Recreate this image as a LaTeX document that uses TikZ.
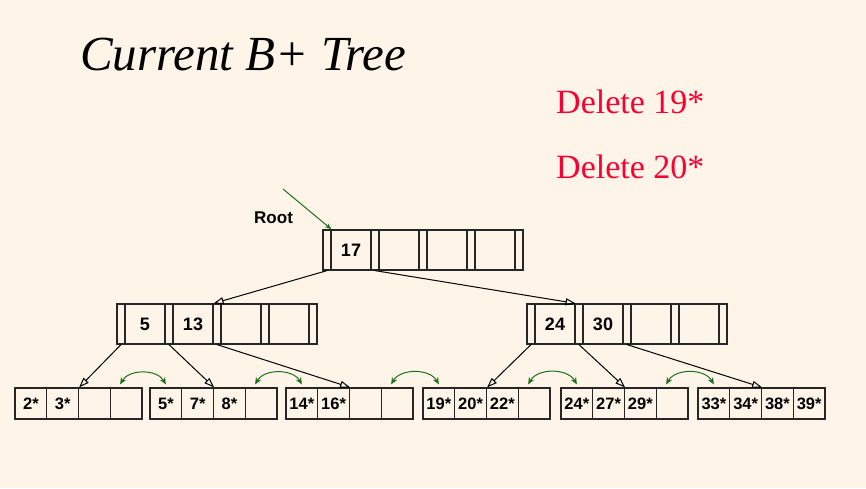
\documentclass[tikz,border=0pt]{standalone}
\usepackage{fontspec}
\setmainfont{Liberation Serif}
\setsansfont{Liberation Sans}
\usepackage{tikz}
\usetikzlibrary{arrows.meta}
\usepackage{xcolor}
\definecolor{paper}{RGB}{254,245,232}
\definecolor{deleted}{RGB}{250,0,50}
\definecolor{sibling}{RGB}{30,110,30}

\begin{document}
\begin{tikzpicture}[x=1pt, y=-1pt,
    slotbox/.style={draw=black!85, line width=1.2pt, minimum width=8pt, minimum height=40pt, inner sep=0pt},
    keybox/.style={draw=black!85, line width=1.2pt, minimum width=40pt, minimum height=40pt, inner sep=0pt,
      font=\sffamily\bfseries\fontsize{18}{18}\selectfont},
    leafcell/.style={draw=black!85, line width=1.2pt, minimum width=31.75pt, minimum height=31pt, inner sep=0pt,
      font=\sffamily\bfseries\fontsize{16.5}{16.5}\selectfont},
    ptr/.style={line width=1pt, -{Triangle[open, length=10pt, width=7pt]}},
    sib/.style={sibling, line width=1pt, {Stealth[length=7pt, width=6pt]}-{Stealth[length=7pt, width=6pt]}}]

  % Background
  \fill[paper] (0,0) rectangle (866,488);
  \useasboundingbox (0,0) rectangle (866,488);

  % Texts
  \node[anchor=base west, inner sep=0pt, font=\itshape\fontsize{49}{49}\selectfont] (title) at (80,70) {Current B+ Tree};
  \node[anchor=base west, inner sep=0pt, text=deleted, font=\fontsize{34}{34}\selectfont] (del1) at (556,113) {Delete 19*};
  \node[anchor=base west, inner sep=0pt, text=deleted, font=\fontsize{34}{34}\selectfont] (del2) at (556,178) {Delete 20*};
  \node[anchor=base west, inner sep=0pt, font=\sffamily\bfseries\fontsize{17}{17}\selectfont] (rootlabel) at (254,223) {Root};

  % Root node
  \foreach \i in {0,...,4} \node[slotbox] (r-s\i) at (327+48*\i, 250) {};
  \foreach \k/\txt in {1/17,2/,3/,4/} \node[keybox] (r-k\k) at (303+48*\k, 250) {\txt};

  % Index nodes
  \foreach \i in {0,...,4} \node[slotbox] (i1-s\i) at (121+48*\i, 324) {};
  \foreach \k/\txt in {1/5,2/13,3/,4/} \node[keybox] (i1-k\k) at (97+48*\k, 324) {\txt};
  \foreach \i in {0,...,4} \node[slotbox] (i2-s\i) at (531+48*\i, 324) {};
  \foreach \k/\txt in {1/24,2/30,3/,4/} \node[keybox] (i2-k\k) at (507+48*\k, 324) {\txt};

  % Leaves
  \foreach \j/\xo/\a/\b/\c/\d in {1/15/2*/3*//, 2/150/5*/7*/8*/, 3/286/14*/16*//,
      4/423/19*/20*/22*/, 5/561/24*/27*/29*/, 6/698/33*/34*/38*/39*} {
    \node[leafcell] (l\j-1) at (\xo+15.875, 403.5) {\a};
    \node[leafcell] (l\j-2) at (\xo+47.625, 403.5) {\b};
    \node[leafcell] (l\j-3) at (\xo+79.375, 403.5) {\c};
    \node[leafcell] (l\j-4) at (\xo+111.125, 403.5) {\d};
  }

  % Edges
  \coordinate (rootin) at (283,189);
  \draw[sibling, line width=1pt, -{Stealth[length=7pt, width=5pt]}] (rootin) -- (r-s0.north east);
  \draw[ptr] (r-s0.south) -- (i1-k2.north east);
  \draw[ptr] (r-s1.south) -- (i2-k1.north east);
  \draw[ptr] (i1-s0.south) -- (l1-2.north east);
  \draw[ptr] (i1-s1.south) -- (l2-2.north east);
  \draw[ptr] (i1-s2.south) -- (l3-2.north east);
  \draw[ptr] (i2-s0.south) -- (l4-2.north east);
  \draw[ptr] (i2-s1.south) -- (l5-2.north east);
  \draw[ptr] (i2-s2.south) -- (l6-2.north east);

  % Sibling links
  \draw[sib] ([xshift=-6pt, yshift=3pt]l1-4.north) to[bend left=60] ([yshift=3pt]l2-1.north);
  \draw[sib] ([xshift=-6pt, yshift=3pt]l2-4.north) to[bend left=60] ([yshift=3pt]l3-1.north);
  \draw[sib] ([xshift=-6pt, yshift=3pt]l3-4.north) to[bend left=60] ([yshift=3pt]l4-1.north);
  \draw[sib] ([xshift=-6pt, yshift=3pt]l4-4.north) to[bend left=60] ([yshift=3pt]l5-1.north);
  \draw[sib] ([xshift=-6pt, yshift=3pt]l5-4.north) to[bend left=60] ([yshift=3pt]l6-1.north);
\end{tikzpicture}
\end{document}
